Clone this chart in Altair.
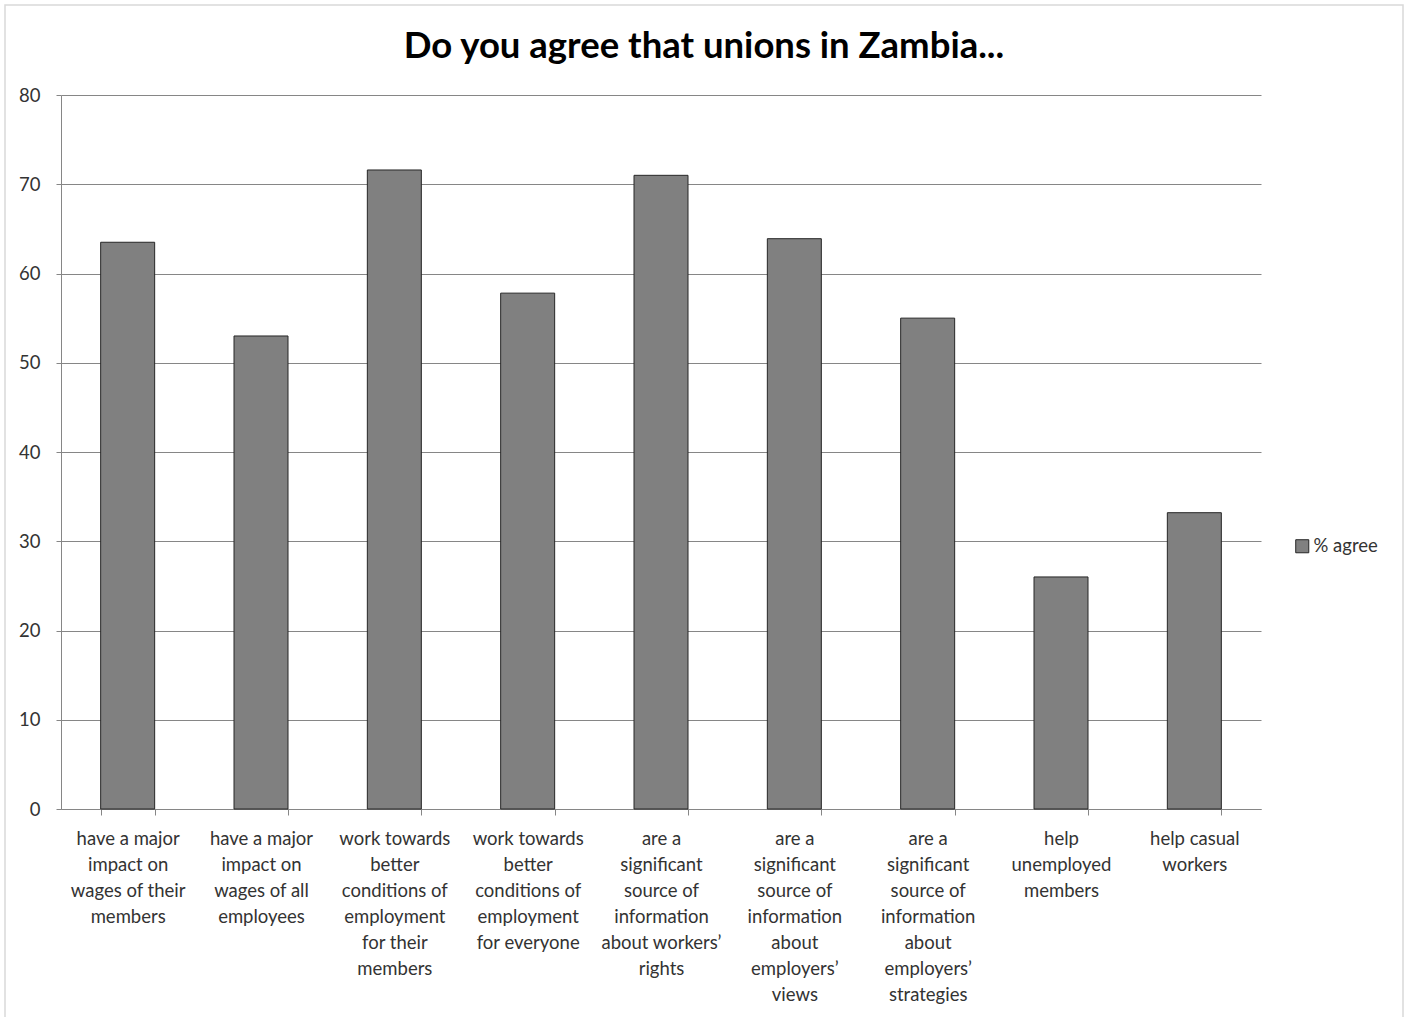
import altair as alt
import pandas as pd

categories = [
    "have a major|impact on|wages of their|members",
    "have a major|impact on|wages of all|employees",
    "work towards|better|conditions of|employment|for their|members",
    "work towards|better|conditions of|employment|for everyone",
    "are a|significant|source of|information|about workers’|rights",
    "are a|significant|source of|information|about|employers’|views",
    "are a|significant|source of|information|about|employers’|strategies",
    "help|unemployed|members",
    "help casual|workers",
]
values = [63.5, 53.0, 71.6, 57.8, 71.0, 63.9, 55.0, 26.0, 33.2]
series_name = "% agree"
y_ticks = [0, 10, 20, 30, 40, 50, 60, 70, 80]

df = pd.DataFrame({"category": categories, "value": values, "series": series_name})

FONT = "Lato"

bars = alt.Chart(df).mark_bar(
    fill="#808080", stroke="#262626", strokeWidth=1
).encode(
    x=alt.X(
        "category:N",
        sort=None,
        title=None,
        scale=alt.Scale(paddingInner=0.595, paddingOuter=0.2975),
        axis=alt.Axis(
            labelAngle=0,
            labelExpr="split(datum.label, '|')",
            labelFont=FONT,
            labelFontSize=18.5,
            labelColor="#333333",
            labelLineHeight=26,
            labelPadding=14,
            labelLimit=200,
            tickBand="extent",
            tickColor="#868686",
            tickSize=6,
            domainColor="#868686",
            grid=False,
        ),
    ),
    y=alt.Y(
        "value:Q",
        title=None,
        scale=alt.Scale(domain=[0, 80], nice=False),
        axis=alt.Axis(
            values=y_ticks,
            labelFont=FONT,
            labelFontSize=18.5,
            labelColor="#333333",
            labelPadding=16,
            tickColor="#868686",
            tickSize=5,
            domainColor="#868686",
            gridColor="#868686",
            gridWidth=1,
        ),
    ),
    color=alt.Color(
        "series:N",
        scale=alt.Scale(range=["#808080"]),
        legend=alt.Legend(
            title=None,
            orient="none",
            legendX=1232,
            legendY=442,
            symbolType="square",
            symbolSize=170,
            symbolStrokeColor="#262626",
            symbolStrokeWidth=1,
            symbolOpacity=1,
            labelFont=FONT,
            labelFontSize=18.5,
            labelColor="#333333",
            labelOffset=2,
        ),
    ),
)

frame = alt.Chart(pd.DataFrame({"f": [0]})).mark_rect(
    fill=None, stroke="#d9d9d9", strokeWidth=1.5
).encode(
    x=alt.value(-56), x2=alt.value(1342), y=alt.value(-90), y2=alt.value(930)
)

chart = alt.layer(frame, bars).properties(
    width=1200,
    height=714,
    background="white",
    title=alt.Title(
        "Do you agree that unions in Zambia...",
        font=FONT,
        fontSize=36.5,
        fontWeight="bold",
        color="#000000",
        anchor="middle",
        baseline="middle",
        dx=43,
        offset=-79,
    ),
    autosize=alt.AutoSizeParams(type="none"),
    padding={"left": 61, "top": 95, "right": 145, "bottom": 208},
).configure_view(stroke=None)

chart.save("out.html", embed_options={"renderer": "svg", "actions": False})
